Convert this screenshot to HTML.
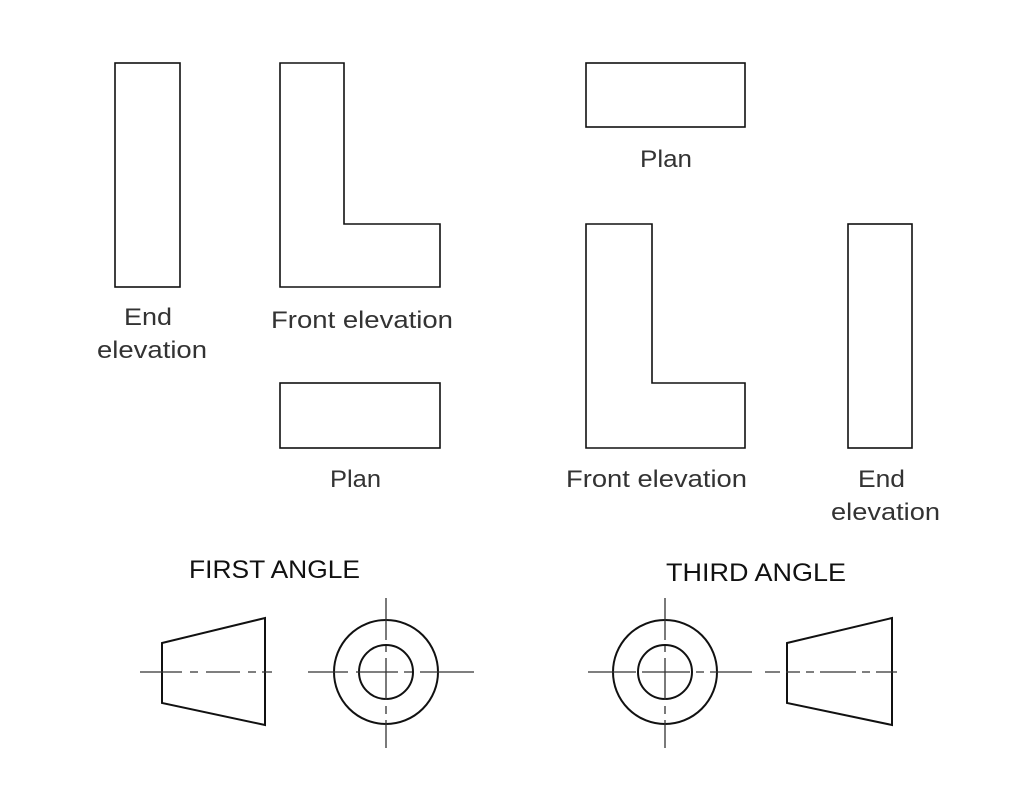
<!DOCTYPE html>
<html><head><style>
html,body{margin:0;padding:0;background:#fff;}
svg{display:block}
.l{font-family:"Liberation Sans",sans-serif;font-size:24px;fill:#333;}
.h{font-family:"Liberation Sans",sans-serif;font-size:25px;fill:#111;}
</style></head><body>
<svg width="1024" height="806" viewBox="0 0 1024 806" xmlns="http://www.w3.org/2000/svg">
<g fill="none" stroke="#111" stroke-width="1.6">
<rect x="115" y="63" width="65" height="224"/>
<path d="M280 63H344V224H440V287H280Z"/>
<rect x="280" y="383" width="160" height="65"/>
<rect x="586" y="63" width="159" height="64"/>
<path d="M586 224H652V383H745V448H586Z"/>
<rect x="848" y="224" width="64" height="224"/>
</g>
<text class="l" x="124" y="325" textLength="48" lengthAdjust="spacingAndGlyphs">End</text>
<text class="l" x="97" y="358" textLength="110" lengthAdjust="spacingAndGlyphs">elevation</text>
<text class="l" x="271" y="328" textLength="182" lengthAdjust="spacingAndGlyphs">Front elevation</text>
<text class="l" x="330" y="487" textLength="51" lengthAdjust="spacingAndGlyphs">Plan</text>
<text class="l" x="640" y="167" textLength="52" lengthAdjust="spacingAndGlyphs">Plan</text>
<text class="l" x="566" y="487" textLength="181" lengthAdjust="spacingAndGlyphs">Front elevation</text>
<text class="l" x="858" y="487" textLength="47" lengthAdjust="spacingAndGlyphs">End</text>
<text class="l" x="831" y="520" textLength="109" lengthAdjust="spacingAndGlyphs">elevation</text>
<text class="h" x="189" y="578" textLength="171" lengthAdjust="spacingAndGlyphs">FIRST ANGLE</text>
<text class="h" x="666" y="581" textLength="180" lengthAdjust="spacingAndGlyphs">THIRD ANGLE</text>
<g fill="none" stroke="#111" stroke-width="2">
<path d="M162 643L265 618V725L162 703Z"/>
<circle cx="386" cy="672" r="52"/>
<circle cx="386" cy="672" r="27"/>
<circle cx="665" cy="672" r="52"/>
<circle cx="665" cy="672" r="27"/>
<path d="M787 643L892 618V725L787 703Z"/>
</g>
<g stroke="#333" stroke-width="1.3" fill="none">
<path d="M140 672H182M190 672H198M206 672H240M248 672H256M262 672H272"/>
<path d="M308 672H348M356 672H398M404 672H412M420 672H474"/>
<path d="M386 598V640M386 646V652M386 658V700M386 706V714M386 720V748"/>
<path d="M588 672H636M642 672H690M696 672H704M710 672H752"/>
<path d="M665 598V640M665 646V652M665 658V700M665 706V714M665 720V748"/>
<path d="M765 672H780M786 672H800M806 672H814M820 672H856M862 672H870M876 672H897"/>
</g>
</svg>
</body></html>
